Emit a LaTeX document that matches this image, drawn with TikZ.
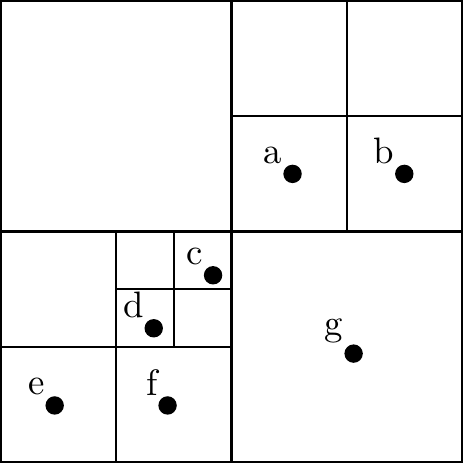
\documentclass[tikz,border=0pt]{standalone}
\usepackage{tikz}
\begin{document}
\begin{tikzpicture}[x=0.55cm,y=0.55cm,line width=0.6pt,
    pt/.style={circle,fill,inner sep=0pt,minimum size=5pt,
      label={[inner sep=0.5pt]above left:#1}}]
  % cells of the quadtree
  \draw (0,0) rectangle (8,8);
  \draw (4,0)--(4,8) (0,4)--(8,4);
  \draw (6,4)--(6,8) (4,6)--(8,6);
  \draw (2,0)--(2,4) (0,2)--(4,2);
  \draw (3,2)--(3,4) (2,3)--(4,3);
  % points
  \node[pt=a] (a) at (5.06,5.0) {};
  \node[pt=b] (b) at (7.0,5.0) {};
  \node[pt=c] (c) at (3.68,3.24) {};
  \node[pt=d] (d) at (2.65,2.32) {};
  \node[pt=e] (e) at (0.93,0.98) {};
  \node[pt=f] (f) at (2.89,0.98) {};
  \node[pt=g] (g) at (6.12,1.88) {};
\end{tikzpicture}
\end{document}
